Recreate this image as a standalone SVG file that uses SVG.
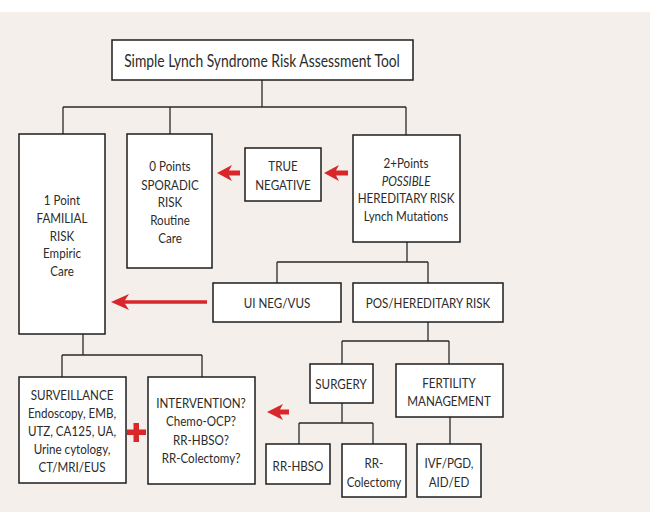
<svg xmlns="http://www.w3.org/2000/svg" width="650" height="530" viewBox="0 0 650 530">
<style>
.box{fill:#ffffff;stroke:#1e1e1e;stroke-width:1.5}
.ln{fill:none;stroke:#2a2a2a;stroke-width:1.3}
text{font-family:Lato,"Open Sans","Liberation Sans",sans-serif;font-size:13.5px;fill:#2b2b2b;text-anchor:middle}
.red{fill:#d8262a}
</style>
<rect x="0" y="0" width="650" height="530" fill="#ffffff"/>
<rect x="0" y="12" width="650" height="500" fill="#f4efea"/>
<g id="connectors">
<path class="ln" d="M262 80V107M63 107H406M63 107V134M170 107V134M406 107V135"/>
<path class="ln" d="M407 242V262M277 262H428M277 262V283M428 262V283"/>
<path class="ln" d="M83 334V355M62 355H202M62 355V377M202 355V377"/>
<path class="ln" d="M428 322V341M342 341H449M342 341V364M449 341V364"/>
<path class="ln" d="M342 403V423M299 423H373M299 423V444M373 423V444M450 417V444"/>
<path class="red" d="M217 173L232 165L229 170.5H240V175.5H229L232 181Z"/>
<path class="red" d="M324 173L339 165L336 170.5H348V175.5H336L339 181Z"/>
<path class="red" d="M111 302L129 294L125 300.3H207V303.7H125L129 310Z"/>
<path class="red" d="M267 412L283 404L280 409.5H289V414.5H280L283 420Z"/>
<path class="red" d="M133.5 423H139V429.5H146V435H139V442H133.5V435H127V429.5H133.5Z"/>
</g>
<g id="title"><rect class="box" x="112" y="40" width="301" height="40"/><text transform="translate(262 0) scale(0.84 1)" x="0" y="67" style="font-size:16.5px">Simple Lynch Syndrome Risk Assessment Tool</text></g>
<g id="familial"><rect class="box" x="19" y="134" width="86" height="200"/>
<g transform="translate(62 0) scale(0.86 1)"><text x="0" y="205">1 Point</text><text x="0" y="223">FAMILIAL</text><text x="0" y="241">RISK</text><text x="0" y="258">Empiric</text><text x="0" y="276">Care</text></g></g>
<g id="sporadic"><rect class="box" x="127" y="134" width="85" height="134"/>
<g transform="translate(170 0) scale(0.86 1)"><text x="0" y="171">0 Points</text><text x="0" y="190">SPORADIC</text><text x="0" y="207">RISK</text><text x="0" y="225">Routine</text><text x="0" y="243">Care</text></g></g>
<g id="truenegative"><rect class="box" x="245" y="148" width="76" height="53"/>
<g transform="translate(283 0) scale(0.86 1)"><text x="0" y="171">TRUE</text><text x="0" y="190">NEGATIVE</text></g></g>
<g id="possible"><rect class="box" x="353" y="135" width="107" height="107"/>
<g transform="translate(406 0) scale(0.86 1)"><text x="0" y="168">2+Points</text><text x="0" y="186" font-style="italic">POSSIBLE</text><text x="0" y="203">HEREDITARY RISK</text><text x="0" y="221">Lynch Mutations</text></g></g>
<g id="uineg"><rect class="box" x="213" y="283" width="128" height="39"/><text transform="translate(277 0) scale(0.86 1)" x="0" y="308">UI NEG/VUS</text></g>
<g id="pos"><rect class="box" x="353" y="283" width="150" height="39"/><text transform="translate(428 0) scale(0.86 1)" x="0" y="308">POS/HEREDITARY RISK</text></g>
<g id="surveillance"><rect class="box" x="19" y="377" width="107" height="106"/>
<g transform="translate(72 0) scale(0.86 1)"><text x="0" y="400">SURVEILLANCE</text><text x="0" y="418">Endoscopy, EMB,</text><text x="0" y="436">UTZ, CA125, UA,</text><text x="0" y="454">Urine cytology,</text><text x="0" y="472">CT/MRI/EUS</text></g></g>
<g id="intervention"><rect class="box" x="148" y="377" width="107" height="107"/>
<g transform="translate(201 0) scale(0.86 1)"><text x="0" y="408">INTERVENTION?</text><text x="0" y="426">Chemo-OCP?</text><text x="0" y="445">RR-HBSO?</text><text x="0" y="463">RR-Colectomy?</text></g></g>
<g id="surgery"><rect class="box" x="310" y="364" width="63" height="39"/><text transform="translate(341 0) scale(0.86 1)" x="0" y="389">SURGERY</text></g>
<g id="fertility"><rect class="box" x="396" y="364" width="107" height="53"/>
<g transform="translate(449 0) scale(0.86 1)"><text x="0" y="388">FERTILITY</text><text x="0" y="406">MANAGEMENT</text></g></g>
<g id="rrhbso"><rect class="box" x="266" y="444" width="64" height="40"/><text transform="translate(298 0) scale(0.86 1)" x="0" y="471">RR-HBSO</text></g>
<g id="rrcolectomy"><rect class="box" x="342" y="444" width="64" height="53"/>
<g transform="translate(374 0) scale(0.86 1)"><text x="0" y="468">RR-</text><text x="0" y="487">Colectomy</text></g></g>
<g id="ivf"><rect class="box" x="417" y="444" width="64" height="53"/>
<g transform="translate(449 0) scale(0.86 1)"><text x="0" y="468">IVF/PGD,</text><text x="0" y="487">AID/ED</text></g></g>
</svg>
